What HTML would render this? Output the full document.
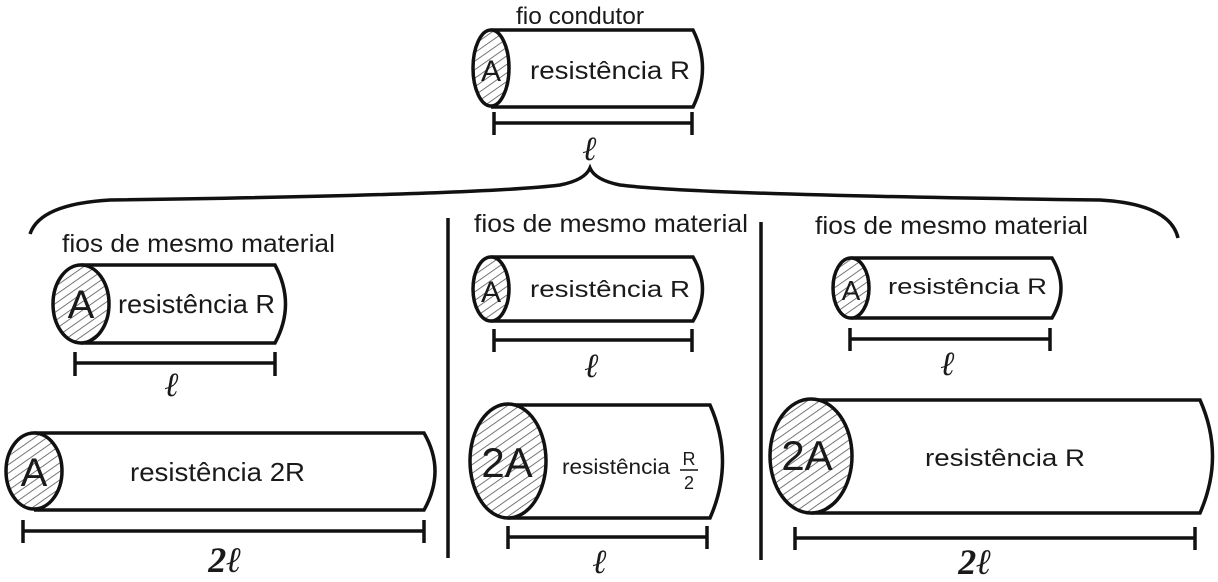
<!DOCTYPE html>
<html><head><meta charset="utf-8"><style>
html,body{margin:0;padding:0;background:#fff;}
svg{display:block;}
text{font-family:"Liberation Sans",sans-serif;fill:#1a1a1a;}
.s{fill:none;stroke:#111;stroke-width:3.5;}
.h{fill:url(#hatch);stroke:#111;stroke-width:3.5;}
.ell{font-family:"Liberation Serif",serif;font-style:italic;font-weight:bold;}
</style></head><body>
<svg width="1218" height="582" viewBox="0 0 1218 582" xmlns="http://www.w3.org/2000/svg">
<defs>
<pattern id="hatch" width="7" height="7" patternUnits="userSpaceOnUse" patternTransform="rotate(-35)">
<rect width="7" height="7" fill="#fff"/>
<line x1="0" y1="0" x2="7" y2="0" stroke="#555" stroke-width="1.6"/>
</pattern>
</defs>

<!-- top -->
<text x="516" y="24" font-size="24" textLength="128" lengthAdjust="spacingAndGlyphs">fio condutor</text>
<path class="s" d="M491 30 H693 Q712 68 693 107 H491"/>
<ellipse class="h" cx="491" cy="68" rx="18" ry="38"/>
<text x="491" y="81" font-size="30" text-anchor="middle">A</text>
<text x="530" y="79" font-size="25" textLength="160" lengthAdjust="spacingAndGlyphs">resistência R</text>
<path class="s" d="M494 123 H692 M494 112 V135 M692 112 V135"/>
<text class="ell" x="590" y="160" font-size="34" text-anchor="middle">ℓ</text>

<!-- brace -->
<path class="s" stroke-width="2.5" d="M30 234 Q40 204 110 200 Q480 195 560 185 Q585 180 590 168 Q595 180 620 185 Q700 195 1100 200 Q1170 204 1178 238"/>

<line class="s" x1="448" y1="218" x2="448" y2="558"/>
<line class="s" x1="761" y1="222" x2="761" y2="560"/>

<!-- left column -->
<text x="62" y="252" font-size="25" textLength="273" lengthAdjust="spacingAndGlyphs">fios de mesmo material</text>
<path class="s" d="M81 265 H275 Q296 304 275 343 H81"/>
<ellipse class="h" cx="81" cy="304" rx="28" ry="39"/>
<text x="81" y="318" font-size="40" text-anchor="middle">A</text>
<text x="118" y="313" font-size="26" textLength="157" lengthAdjust="spacingAndGlyphs">resistência R</text>
<path class="s" d="M75 363 H275 M75 352 V376 M275 352 V376"/>
<text class="ell" x="172" y="396" font-size="34" text-anchor="middle">ℓ</text>

<path class="s" d="M34 433 H424 Q446 471 424 510 H34"/>
<ellipse class="h" cx="34" cy="471" rx="28" ry="38"/>
<text x="34" y="486" font-size="40" text-anchor="middle">A</text>
<text x="130" y="481" font-size="26" textLength="175" lengthAdjust="spacingAndGlyphs">resistência 2R</text>
<path class="s" d="M23 531 H424 M23 520 V543 M424 520 V543"/>
<text class="ell" x="225" y="572" font-size="36" text-anchor="middle">2ℓ</text>

<!-- middle column -->
<text x="474" y="232" font-size="25" textLength="274" lengthAdjust="spacingAndGlyphs">fios de mesmo material</text>
<path class="s" d="M491 257 H693 Q712 289 693 321 H491"/>
<ellipse class="h" cx="491" cy="289" rx="18" ry="32"/>
<text x="491" y="302" font-size="30" text-anchor="middle">A</text>
<text x="530" y="297" font-size="23" textLength="160" lengthAdjust="spacingAndGlyphs">resistência R</text>
<path class="s" d="M494 340 H692 M494 329 V352 M692 329 V352"/>
<text class="ell" x="592" y="377" font-size="34" text-anchor="middle">ℓ</text>

<path class="s" d="M508 405 H710 Q735 461 710 518 H508"/>
<ellipse class="h" cx="508" cy="461" rx="38" ry="57"/>
<text x="507" y="477" font-size="42" text-anchor="middle">2A</text>
<text x="562" y="474" font-size="21" textLength="108" lengthAdjust="spacingAndGlyphs">resistência</text>
<text x="689" y="465" font-size="18" text-anchor="middle">R</text>
<line x1="680" y1="470" x2="698" y2="470" stroke="#111" stroke-width="1.5"/>
<text x="689" y="489" font-size="18" text-anchor="middle">2</text>
<path class="s" d="M508 537 H707 M508 526 V549 M707 526 V549"/>
<text class="ell" x="600" y="573" font-size="34" text-anchor="middle">ℓ</text>

<!-- right column -->
<text x="815" y="234" font-size="25" textLength="273" lengthAdjust="spacingAndGlyphs">fios de mesmo material</text>
<path class="s" d="M851 258 H1052 Q1070 288 1052 318 H851"/>
<ellipse class="h" cx="851" cy="288" rx="18" ry="30"/>
<text x="851" y="300" font-size="28" text-anchor="middle">A</text>
<text x="888" y="294" font-size="22" textLength="159" lengthAdjust="spacingAndGlyphs">resistência R</text>
<path class="s" d="M850 339 H1050 M850 328 V351 M1050 328 V351"/>
<text class="ell" x="948" y="375" font-size="34" text-anchor="middle">ℓ</text>

<path class="s" d="M811 400 H1200 Q1225 456 1200 513 H811"/>
<ellipse class="h" cx="811" cy="456" rx="41" ry="57"/>
<text x="807" y="470" font-size="42" text-anchor="middle">2A</text>
<text x="925" y="466" font-size="24" textLength="160" lengthAdjust="spacingAndGlyphs">resistência R</text>
<path class="s" d="M795 538 H1195 M795 527 V550 M1195 527 V550"/>
<text class="ell" x="975" y="574" font-size="36" text-anchor="middle">2ℓ</text>
</svg>
</body></html>
